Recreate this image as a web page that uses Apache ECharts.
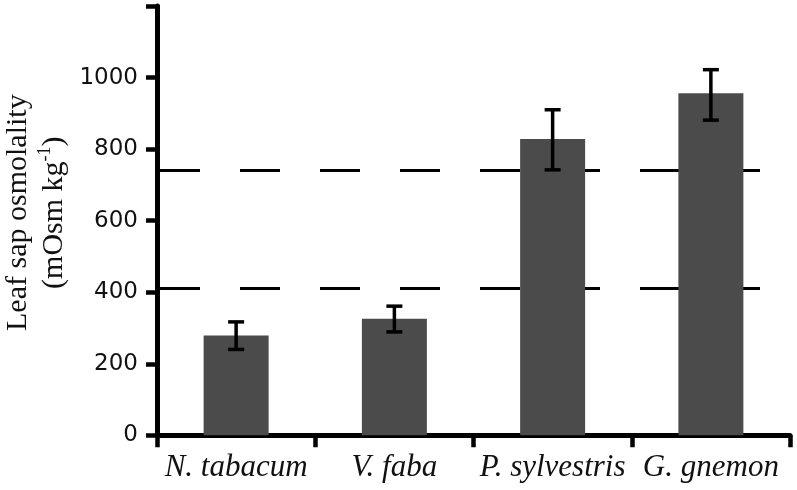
<!DOCTYPE html>
<html>
<head>
<meta charset="utf-8">
<script src="https://cdn.jsdelivr.net/npm/echarts@6/dist/echarts.min.js"></script>
<style>html,body{margin:0;padding:0;background:#fff}#c{width:797px;height:490px}</style>
</head>
<body>
<div id="c"></div>
<script>
const categories = ['N. tabacum', 'V. faba', 'P. sylvestris', 'G. gnemon'];
const means = [279, 326, 828, 956];
const errLow = [240, 289, 742, 881];
const errHigh = [317, 361, 910, 1022];
const refLines = [742, 410];
const yTicks = [0, 200, 400, 600, 800, 1000];

const chart = echarts.init(document.getElementById('c'));
chart.setOption({
  animation: false,
  backgroundColor: '#fff',
  grid: { left: 157, right: 7, top: 6, bottom: 54.7, containLabel: false, outerBoundsMode: 'none' },
  xAxis: {
    type: 'category',
    data: categories,
    axisLine: { lineStyle: { color: '#000', width: 5 } },
    axisTick: { show: true, interval: 0, length: 12, lineStyle: { color: '#000', width: 4.5 } },
    axisLabel: { interval: 0, margin: 17, color: '#111', fontFamily: 'Liberation Serif', fontStyle: 'italic', fontSize: 31 },
    splitLine: { show: false }
  },
  yAxis: {
    type: 'value',
    min: 0, max: 1200, interval: 200,
    name: 'Leaf sap osmolality\n(mOsm kg{sup|-1})',
    nameLocation: 'middle',
    nameMoveOverlap: false,
    nameGap: 85,
    nameTextStyle: {
      fontFamily: 'Liberation Serif', fontSize: 30, color: '#111', lineHeight: 36,
      padding: [0, 0, 0, 16],
      rich: { sup: { fontFamily: 'Liberation Serif', fontSize: 18, verticalAlign: 'top', padding: [0, 0, 14, 0], color: '#111' } }
    },
    axisLine: { show: true, lineStyle: { color: '#000', width: 5 } },
    axisTick: { show: true, length: 11, lineStyle: { color: '#000', width: 4.5 } },
    axisLabel: {
      margin: 19, color: '#111', fontFamily: 'DejaVu Sans', fontSize: 23,
      formatter: v => yTicks.includes(v) ? String(v) : ''
    },
    splitLine: { show: false }
  },
  series: [
    {
      type: 'bar',
      data: means,
      barWidth: 65,
      z: 2,
      itemStyle: { color: '#4b4b4b' },
      markLine: {
        silent: true,
        z: 1,
        symbol: 'none',
        label: { show: false },
        lineStyle: { color: '#000', width: 3, type: [40, 40], dashOffset: 77 },
        data: refLines.map(v => ({ yAxis: v }))
      }
    },
    {
      type: 'custom',
      z: 3,
      data: categories.map((c, i) => [i, errLow[i], errHigh[i]]),
      renderItem: function (params, api) {
        const x = api.value(0);
        const lo = api.coord([x, api.value(1)]);
        const hi = api.coord([x, api.value(2)]);
        const hw = 8;
        const st = { stroke: '#000', lineWidth: 3.5 };
        return {
          type: 'group',
          children: [
            { type: 'line', shape: { x1: lo[0], y1: lo[1], x2: hi[0], y2: hi[1] }, style: st },
            { type: 'line', shape: { x1: lo[0] - hw, y1: lo[1], x2: lo[0] + hw, y2: lo[1] }, style: st },
            { type: 'line', shape: { x1: hi[0] - hw, y1: hi[1], x2: hi[0] + hw, y2: hi[1] }, style: st }
          ]
        };
      }
    }
  ]
});
</script>
</body>
</html>
